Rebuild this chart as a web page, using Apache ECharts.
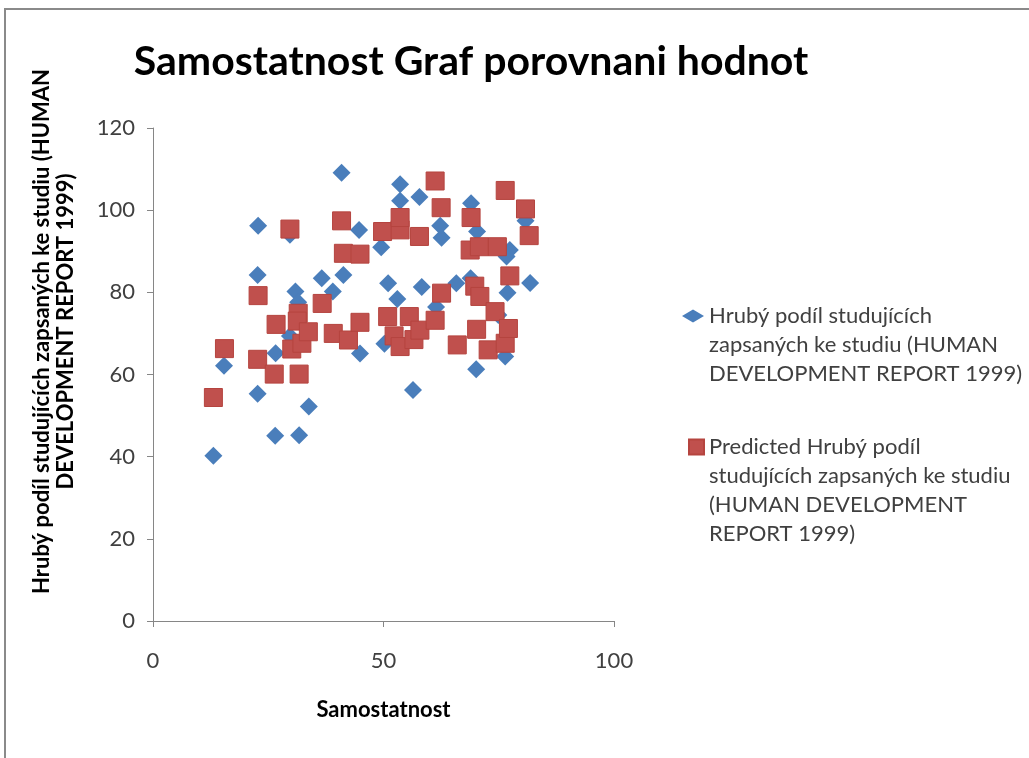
<!DOCTYPE html>
<html>
<head>
<meta charset="utf-8">
<script src="https://cdn.jsdelivr.net/npm/echarts@6/dist/echarts.min.js"></script>
<style>
  html, body { margin: 0; padding: 0; background: #fff; }
  #frame { position: absolute; left: 4px; top: 8px; width: 1040px; height: 760px;
           border-left: 2px solid #8a8a8a; border-top: 2px solid #8a8a8a; }
  #chart { position: absolute; left: 0; top: 0; width: 1029px; height: 758px; }
</style>
</head>
<body>
<div id="frame"></div>
<div id="chart"></div>
<script>
// Samostatnost (x) vs. Hruby podil studujicich (y)
const actualName = 'Hrubý podíl studujících\nzapsaných ke studiu (HUMAN\nDEVELOPMENT REPORT 1999)';
const predictedName = 'Predicted Hrubý podíl\nstudujících zapsaných ke studiu\n(HUMAN DEVELOPMENT\nREPORT 1999)';

const actualPoints = [
  [13.1, 40.2], [15.4, 62.1], [22.7, 55.3], [22.8, 96.2], [22.7, 84.2],
  [26.5, 45.1], [26.6, 65.2], [29.7, 94.0], [29.7, 69.4], [30.9, 80.2],
  [31.5, 77.6], [31.7, 45.2], [33.8, 52.2], [36.6, 83.4], [39.0, 80.2],
  [40.9, 109.1], [41.3, 84.2], [44.7, 95.2], [44.9, 65.1], [49.5, 91.0],
  [51.0, 82.2], [53.0, 78.4], [53.6, 106.3], [53.6, 102.3], [57.8, 103.2],
  [58.3, 81.3], [56.4, 56.2], [61.4, 76.4], [62.3, 96.2], [62.6, 93.3],
  [65.8, 82.2], [68.9, 83.4], [69.0, 101.7], [70.3, 94.8], [70.1, 61.3],
  [76.4, 64.4], [76.9, 79.9], [76.7, 88.7], [77.4, 90.3], [80.8, 97.4],
  [81.8, 82.3], [74.9, 74.5], [50.2, 67.5]
];

const predictedPoints = [
  [13.1, 54.4], [15.5, 66.3], [22.7, 63.7], [22.8, 79.2], [26.3, 60.1],
  [26.7, 72.2], [29.7, 95.4], [30.1, 66.2], [31.5, 74.9], [31.3, 73.0],
  [31.7, 60.1], [32.3, 67.6], [33.7, 70.4], [36.7, 77.3], [39.1, 70.0],
  [40.9, 97.4], [41.3, 89.5], [42.4, 68.4], [44.9, 89.3], [44.9, 72.7],
  [49.8, 94.8], [50.9, 74.1], [52.3, 69.4], [53.6, 66.8], [53.6, 95.2],
  [53.6, 98.2], [55.6, 74.1], [56.6, 68.5], [57.9, 70.8], [57.8, 93.6],
  [61.2, 107.1], [61.2, 73.2], [62.5, 100.6], [62.6, 79.8], [66.0, 67.2],
  [68.8, 90.3], [69.0, 98.2], [69.8, 81.5], [70.2, 71.0], [70.9, 79.0],
  [70.8, 91.1], [72.7, 66.0], [74.2, 75.3], [74.7, 91.1], [76.4, 67.6],
  [76.4, 104.8], [77.1, 71.2], [77.4, 84.0], [80.8, 100.3], [81.6, 93.8]
];

const xTicks = { min: 0, max: 100, step: 50 };
const yTicks = { min: 0, max: 120, step: 20 };

const chart = echarts.init(document.getElementById('chart'));
const LH = 29;
const legendText = {
  fontFamily: 'Lato', fontSize: 22, color: '#404040', lineHeight: LH
};
// blank lines in front so the icon sits level with the first text line
const padLines = (name, n) => '\n'.repeat(n) + name;

chart.setOption({
  backgroundColor: 'transparent',
  animation: false,
  title: {
    text: 'Samostatnost Graf porovnani hodnot',
    left: 466, top: 36, textAlign: 'center',
    textStyle: { fontFamily: 'Lato', fontWeight: 'bold', fontSize: 41, color: '#000' }
  },
  legend: [
    {
      data: [actualName], orient: 'vertical', left: 682, top: 316 - 2.5 * LH,
      padding: 0, itemWidth: 22, itemHeight: 13, itemGap: 0, symbolKeepAspect: true,
      formatter: name => padLines(name, 2),
      textStyle: legendText
    },
    {
      data: [predictedName], orient: 'vertical', left: 688, top: 447 - 3.5 * LH,
      padding: 0, itemWidth: 15, itemHeight: 15, itemGap: 0, symbolKeepAspect: true,
      formatter: name => padLines(name, 3),
      textStyle: legendText
    }
  ],
  grid: { left: 153, top: 128, width: 461, height: 493 },
  xAxis: {
    type: 'value', min: xTicks.min, max: xTicks.max, interval: xTicks.step,
    name: 'Samostatnost', nameLocation: 'middle', nameGap: 78,
    nameTextStyle: { fontFamily: 'Lato', fontWeight: 'bold', fontSize: 22, color: '#000' },
    axisLine: { lineStyle: { color: '#868686', width: 1 } },
    axisTick: { show: true, length: 6, lineStyle: { color: '#868686' } },
    axisLabel: { margin: 29, fontFamily: 'Lato', fontSize: 22, color: '#404040' },
    splitLine: { show: false }
  },
  yAxis: {
    type: 'value', min: yTicks.min, max: yTicks.max, interval: yTicks.step,
    name: 'Hrubý podíl studujících zapsaných ke studiu (HUMAN\nDEVELOPMENT REPORT 1999)',
    nameLocation: 'middle', nameGap: 75, nameRotate: 90,
    nameTextStyle: { fontFamily: 'Lato', fontWeight: 'bold', fontSize: 22, color: '#000',
                     lineHeight: 24, align: 'center', padding: [0, 0, 0, 86] },
    axisLine: { show: true, lineStyle: { color: '#868686', width: 1 } },
    axisTick: { show: true, length: 6, lineStyle: { color: '#868686' } },
    axisLabel: { margin: 18, fontFamily: 'Lato', fontSize: 22, color: '#404040' },
    splitLine: { show: false }
  },
  series: [
    {
      name: actualName, type: 'scatter', symbol: 'diamond', symbolSize: 18,
      itemStyle: { color: '#4a7ebb', opacity: 1 },
      data: actualPoints
    },
    {
      name: predictedName, type: 'scatter', symbol: 'rect', symbolSize: 18,
      itemStyle: { color: '#c0504d', borderColor: '#b5443f', borderWidth: 1, opacity: 1 },
      data: predictedPoints
    }
  ]
});
</script>
</body>
</html>
